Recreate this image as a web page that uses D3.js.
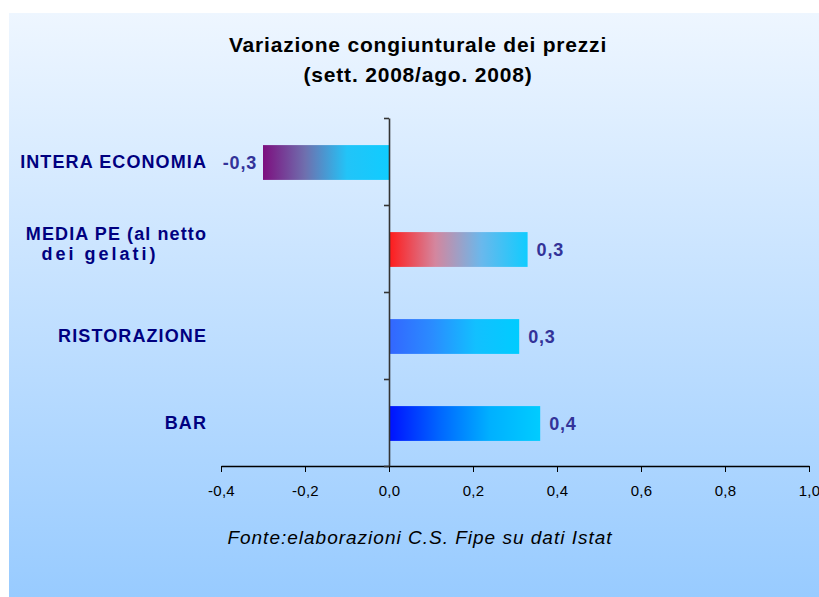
<!DOCTYPE html>
<html>
<head>
<meta charset="utf-8">
<script src="https://cdn.jsdelivr.net/npm/d3@7"></script>
<style>
  body { margin: 0; background: #fff; }
  svg { display: block; font-family: "Liberation Sans", Arial, sans-serif; }
</style>
</head>
<body>
<div id="chart"></div>
<script>
// data
const categories = ["INTERA ECONOMIA", "MEDIA PE (al netto dei gelati)", "RISTORAZIONE", "BAR"]
const categoryLines = [["INTERA ECONOMIA"], ["MEDIA PE (al netto", "dei gelati)"], ["RISTORAZIONE"], ["BAR"]]
const values = [-0.30, 0.33, 0.31, 0.36]
const xTicks = [-0.4, -0.2, 0.0, 0.2, 0.4, 0.6, 0.8, 1.0]
const titleLines = ["Variazione congiunturale dei prezzi", "(sett. 2008/ago. 2008)"]
const source = "Fonte:elaborazioni C.S. Fipe su dati Istat"

// gradient colours per bar (left -> right)
const barGradients = [
  ["#7d0f7f", "#6f6fae", "#22c4f8", "#10ccff"],
  ["#ff1a1a", "#d4869e", "#6ab8ec", "#10ccff"],
  ["#3366ff", "#2a8cff", "#12c0ff", "#00ccff"],
  ["#0011ff", "#0066ff", "#00b0ff", "#00ccff"],
]

const width = 819
const height = 597

const svg = d3.select("#chart")
  .append("svg")
  .attr("width", width)
  .attr("height", height)

const defs = svg.append("defs")

const bg = defs.append("linearGradient")
  .attr("id", "bg")
  .attr("x1", 0).attr("y1", 0).attr("x2", 0).attr("y2", 1)
bg.append("stop").attr("offset", "0%").attr("stop-color", "#eef6ff")
bg.append("stop").attr("offset", "100%").attr("stop-color", "#98cbff")

barGradients.forEach((cols, i) => {
  const g = defs.append("linearGradient")
    .attr("id", "bar" + i)
    .attr("x1", 0).attr("y1", 0).attr("x2", 1).attr("y2", 0)
  cols.forEach((c, j) => {
    g.append("stop")
      .attr("offset", (j / (cols.length - 1)) * 100 + "%")
      .attr("stop-color", c)
  })
})

svg.append("rect")
  .attr("x", 9).attr("y", 13)
  .attr("width", width - 9).attr("height", height - 13)
  .attr("fill", "url(#bg)")

const x = d3.scaleLinear().domain([-0.4, 1.0]).range([221, 809])
const y = d3.scaleBand()
  .domain(categories)
  .range([118, 466])
  .paddingInner(0.6)
  .paddingOuter(0.3)
const yEdges = d3.scaleLinear().domain([0, categories.length]).range([118, 466])

const it = d3.formatLocale({ decimal: ",", thousands: ".", grouping: [3], currency: ["", "€"], minus: "-" })
const fmt = it.format(".1f")

// bars
svg.append("g")
  .selectAll("rect")
  .data(values)
  .join("rect")
  .attr("x", d => x(Math.min(0, d)))
  .attr("y", (d, i) => y(categories[i]) + 1)
  .attr("width", d => Math.abs(x(d) - x(0)))
  .attr("height", y.bandwidth())
  .attr("fill", (d, i) => `url(#bar${i})`)

// x axis
const xAxis = svg.append("g")
  .attr("transform", "translate(0,466)")
  .call(d3.axisBottom(x).tickValues(xTicks).tickSize(6).tickSizeOuter(0).tickFormat(fmt))
xAxis.select(".domain").attr("stroke", "#000").attr("stroke-width", 1.3)
xAxis.selectAll(".tick line").attr("stroke", "#000")
xAxis.selectAll(".tick text")
  .attr("y", 19)
  .attr("dy", "0.71em")
  .attr("font-size", 15)
  .attr("letter-spacing", 0.3)
  .attr("font-family", "Liberation Sans, Arial, sans-serif")
  .attr("fill", "#000")

// y axis at zero, ticks on category boundaries
const yAxis = svg.append("g")
  .attr("transform", `translate(${x(0)},0)`)
  .call(d3.axisLeft(yEdges).ticks(categories.length).tickSize(5).tickSizeOuter(0).tickFormat(""))
yAxis.select(".domain").attr("stroke", "#333").attr("stroke-width", 1.6)
yAxis.selectAll(".tick line").attr("stroke", "#333").attr("stroke-width", 1.6)

// category labels
const catLabels = svg.append("g")
  .attr("font-weight", "bold")
  .attr("font-size", 18)
  .attr("fill", "#000080")
  .attr("letter-spacing", 1.1)

categoryLines.forEach((lines, i) => {
  const cy = y(categories[i]) + y.bandwidth() / 2
  const t = catLabels.append("text")
  if (lines.length === 1) {
    t.attr("x", 207).attr("y", cy + 6).attr("text-anchor", "end").text(lines[0])
  } else {
    t.append("tspan").attr("x", 207).attr("y", cy - 9).attr("text-anchor", "end").text(lines[0])
    t.append("tspan").attr("x", 100).attr("y", cy + 11).attr("text-anchor", "middle")
      .attr("letter-spacing", 3).text(lines[1])
  }
})

// value labels
svg.append("g")
  .selectAll("text")
  .data(values)
  .join("text")
  .attr("x", d => d < 0 ? x(d) - 6 : x(d) + 9)
  .attr("y", (d, i) => y(categories[i]) + y.bandwidth() / 2 + 7)
  .attr("text-anchor", d => d < 0 ? "end" : "start")
  .attr("font-weight", "bold")
  .attr("font-size", 18)
  .attr("letter-spacing", 0.8)
  .attr("fill", "#333399")
  .text(d => fmt(d))

// title
svg.append("g")
  .selectAll("text")
  .data(titleLines)
  .join("text")
  .attr("x", 418)
  .attr("y", (d, i) => 52 + i * 30)
  .attr("text-anchor", "middle")
  .attr("font-weight", "bold")
  .attr("font-size", 21)
  .attr("letter-spacing", 0.8)
  .attr("fill", "#000")
  .text(d => d)

// source note
svg.append("text")
  .attr("x", 420)
  .attr("y", 544)
  .attr("text-anchor", "middle")
  .attr("font-style", "italic")
  .attr("font-size", 19)
  .attr("letter-spacing", 1)
  .attr("fill", "#000")
  .text(source)
</script>
</body>
</html>
